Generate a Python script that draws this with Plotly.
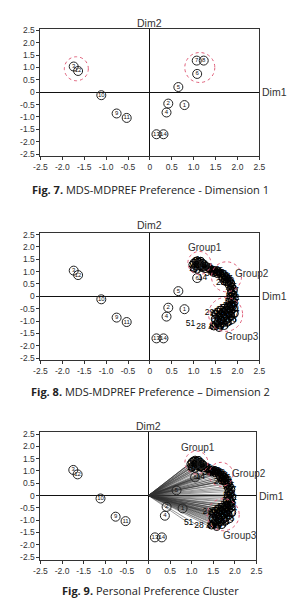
import plotly.graph_objects as go

W, H = 294, 611

# ---- data ----
prod_labels = ["1", "2", "3", "4", "5", "6", "7", "8", "9", "10", "11", "12", "13", "14"]
prod_x = [0.79, 0.42, -1.74, 0.38, 0.65, 1.08, 1.07, 1.23, -0.76, -1.11, -0.53, -1.64, 0.15, 0.31]
prod_y = [-0.52, -0.46, 1.04, -0.82, 0.21, 0.74, 1.28, 1.28, -0.86, -0.12, -1.04, 0.86, -1.70, -1.70]

# respondents inside the dense clusters
resp_labels = [
    "1", "2", "3", "4", "5", "6", "7", "8", "9", "10", "11", "12", "13", "15", "16", "17", "18", "19",
    "20", "22", "23", "24", "25", "26", "27", "30", "31", "32", "33", "34", "35", "36", "37", "39",
    "40", "41", "42", "44",
    "45", "46", "47", "48", "49", "50", "52", "53", "54", "55",
    "56", "57", "58", "59", "60", "61", "62", "63", "64", "65", "66", "67", "68", "69", "70", "71",
    "72", "73", "74", "75", "76", "77", "78", "79", "80", "81", "82", "83", "84", "85", "86", "87"]
resp_x = [
    0.97, 1.00, 1.04, 1.08, 1.12, 1.16, 1.20, 1.24, 1.28, 1.32, 1.05, 1.10, 1.15, 1.20, 1.00, 1.08, 1.26, 1.36,
    1.40, 1.44, 1.48, 1.52, 1.56, 1.60, 1.46, 1.54, 1.62, 1.66, 1.70, 1.74, 1.66, 1.72, 1.78, 1.82,
    1.76, 1.86, 1.80, 1.70,
    1.88, 1.84, 1.92, 1.86, 1.90, 1.84, 1.94, 1.88, 1.82, 1.92,
    1.86, 1.78, 1.70, 1.82, 1.92, 1.62, 1.74, 1.86, 1.56, 1.68, 1.80, 1.94, 1.50, 1.62, 1.74, 1.86,
    1.56, 1.68, 1.80, 1.48, 1.62, 1.74, 1.88, 1.54, 1.66, 1.78, 1.50, 1.60, 1.70, 1.46, 1.58, 1.90]
resp_y = [
    1.28, 1.36, 1.42, 1.46, 1.40, 1.44, 1.36, 1.30, 1.24, 1.18, 1.22, 1.30, 1.20, 1.14, 1.12, 1.08, 1.10, 1.12,
    1.06, 1.02, 1.06, 0.98, 1.02, 0.96, 0.94, 0.90, 0.88, 0.92, 0.84, 0.78, 0.74, 0.68, 0.70, 0.62,
    0.58, 0.52, 0.46, 0.60,
    0.38, 0.30, 0.24, 0.16, 0.06, -0.02, -0.08, -0.16, -0.22, -0.28,
    -0.36, -0.40, -0.46, -0.48, -0.50, -0.54, -0.56, -0.60, -0.62, -0.64, -0.68, -0.70, -0.72, -0.74, -0.78, -0.80,
    -0.84, -0.86, -0.90, -0.92, -0.96, -0.98, -0.96, -1.04, -1.08, -1.06, -1.14, -1.18, -1.20, -1.22, -1.28, -0.40]

# respondents that stand apart (plain number labels)
out_labels = ["14", "38", "21", "29", "43", "28", "51"]
out_x = [1.20, 1.36, 1.62, 1.36, 1.44, 1.17, 0.93]
out_y = [0.75, 0.92, 0.54, -0.66, -1.28, -1.25, -1.12]

tick_vals = [-2.5, -2.0, -1.5, -1.0, -0.5, 0, 0.5, 1.0, 1.5, 2.0, 2.5]
tick_text = ["-2.5", "-2.0", "-1.5", "-1.0", "-0.5", "0", "0.5", "1.0", "1.5", "2.0", "2.5"]

group_names = ["Group1", "Group2", "Group3"]
captions = ["<b>Fig. 7.</b> MDS-MDPREF Preference - Dimension 1",
            "<b>Fig. 8.</b> MDS-MDPREF Preference \u2013 Dimension 2",
            "<b>Fig. 9.</b> Personal Preference Cluster"]

# ---- layout helpers (pixel positions) ----
def px_x(p):
    return p / W

def px_y(p):
    return 1 - p / H

panels = [
    dict(xd=[35, 264], yd=[25, 154], yr=[-2.59, 2.57], dim2=19, cap=187.5),
    dict(xd=[35, 264], yd=[231.7, 360], yr=[-2.57, 2.56], dim2=224, cap=392),
    dict(xd=[35, 261], yd=[433, 562.7], yr=[-2.63, 2.58], dim2=427, cap=593),
]

fig = go.Figure()
ax_font = dict(family="Liberation Sans, Arial, sans-serif", size=8.5, color="#333")
layout = dict(width=W, height=H, margin=dict(l=0, r=0, t=0, b=0),
              paper_bgcolor="white", plot_bgcolor="white", showlegend=False)
annotations = []
shapes = []
lab_font = dict(family="Liberation Sans, Arial", size=10.5, color="#333")
num_font = dict(family="Liberation Sans, Arial", size=8.5, color="#000")

for i, p in enumerate(panels):
    s = "" if i == 0 else str(i + 1)
    common = dict(tickvals=tick_vals, ticktext=tick_text,
                  ticks="outside", ticklen=3, tickcolor="#333", showline=True,
                  mirror=True, linecolor="#333", linewidth=1, showgrid=False,
                  zeroline=True, zerolinecolor="#111", zerolinewidth=1.4,
                  tickfont=ax_font, fixedrange=True)
    xa = dict(common, domain=[px_x(p["xd"][0]), px_x(p["xd"][1])], range=[-2.5, 2.5], anchor="y" + s)
    ya = dict(common, domain=[px_y(p["yd"][1]), px_y(p["yd"][0])], range=p["yr"], anchor="x" + s)
    layout["xaxis" + s] = xa
    layout["yaxis" + s] = ya
    xr, yr = "x" + s, "y" + s
    annotations.append(dict(text="Dim2", xref=xr, yref="paper", x=0, y=px_y(p["dim2"]),
                            xanchor="center", yanchor="middle", showarrow=False, font=lab_font))
    annotations.append(dict(text="Dim1", xref="paper", yref=yr, x=px_x(p["xd"][1] + 1), y=0,
                            xanchor="left", yanchor="middle", showarrow=False, font=lab_font))
    annotations.append(dict(text=captions[i], xref="paper", yref="paper", x=px_x(150.5),
                            y=px_y(p["cap"]), xanchor="center", yanchor="middle", showarrow=False,
                            font=dict(family="Open Sans, sans-serif", size=11, color="#222")))

    # vectors in panel 3
    if i == 2:
        lx, ly = [], []
        for x, y in zip(resp_x + out_x, resp_y + out_y):
            lx += [0, x, None]
            ly += [0, y, None]
        fig.add_trace(go.Scatter(x=lx, y=ly, mode="lines", xaxis=xr, yaxis=yr,
                                 line=dict(color="#333", width=0.5), hoverinfo="skip"))
    # respondents in panels 2 and 3
    if i >= 1:
        fig.add_trace(go.Scatter(x=resp_x, y=resp_y, mode="markers+text", text=resp_labels,
                                 xaxis=xr, yaxis=yr, textposition="middle center",
                                 textfont=num_font,
                                 marker=dict(symbol="circle-open", size=7, color="#000",
                                             line=dict(width=1)),
                                 hoverinfo="skip"))
        fig.add_trace(go.Scatter(x=out_x, y=out_y, mode="text", text=out_labels,
                                 xaxis=xr, yaxis=yr, textposition="middle center",
                                 textfont=num_font, hoverinfo="skip"))
    # products
    fig.add_trace(go.Scatter(x=prod_x, y=prod_y, mode="markers+text", text=prod_labels,
                             xaxis=xr, yaxis=yr, textposition="middle center",
                             textfont=dict(family="Liberation Sans, Arial", size=6, color="#111"),
                             marker=dict(symbol="circle-open", size=9, color="#222",
                                         line=dict(width=1)),
                             hoverinfo="skip"))

# dotted red circles (center in data, radius in pixels)
def circle(xr, yr, cx, cy, r):
    return dict(type="circle", xref=xr, yref=yr, xsizemode="pixel", ysizemode="pixel",
                xanchor=cx, yanchor=cy, x0=-r, x1=r, y0=-r, y1=r,
                line=dict(color="#e0607a", width=1, dash="dot"))

shapes.append(circle("x", "y", -1.68, 0.95, 12))
shapes.append(circle("x", "y", 1.14, 1.00, 15))
shapes.append(circle("x2", "y2", 1.13, 1.35, 11.5))
shapes.append(circle("x2", "y2", 1.75, 0.79, 15))
shapes.append(circle("x2", "y2", 1.73, -0.73, 17))
shapes.append(circle("x3", "y3", 1.11, 1.34, 11.5))
shapes.append(circle("x3", "y3", 1.68, 0.86, 12))
shapes.append(circle("x3", "y3", 1.73, -0.78, 16))

gfont = dict(family="Liberation Sans, Arial", size=10, color="#333")
group_pos = {
    "2": [(1.27, 1.96), (2.33, 0.92), (2.11, -1.61)],
    "3": [(1.15, 1.94), (2.32, 0.90), (2.12, -1.61)],
}
for s, pos in group_pos.items():
    for name, (gx, gy) in zip(group_names, pos):
        annotations.append(dict(text=name, xref="x" + s, yref="y" + s, x=gx, y=gy,
                                xanchor="center", yanchor="middle", showarrow=False, font=gfont))

layout["annotations"] = annotations
layout["shapes"] = shapes
fig.update_layout(**layout)
fig.write_html("out.html")
